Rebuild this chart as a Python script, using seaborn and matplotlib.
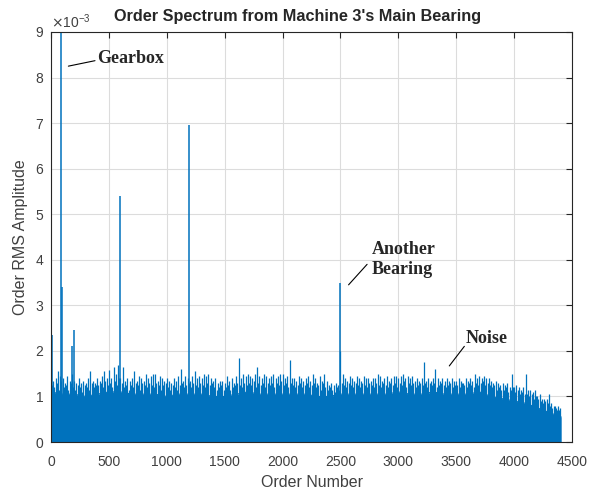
import numpy as np
import pandas as pd
import matplotlib
matplotlib.use("Agg")
import matplotlib.pyplot as plt
import seaborn as sns
from matplotlib.ticker import ScalarFormatter

# -----------------------------
# Data (amplitudes in units of 1e-3)
# -----------------------------
# noise spike tops, one value every 20 orders from 0 to 4400
noise_peak = [
    1.60, 1.35, 1.40, 1.55, 1.45,  1.40, 1.30, 1.45, 1.35, 1.50,
    1.35, 1.30, 1.40, 1.30, 1.35,  1.30, 1.40, 1.55, 1.35, 1.30,
    1.40, 1.35, 1.45, 1.55, 1.40,  1.58, 1.40, 1.65, 1.50, 1.68,
    1.40, 1.65, 1.35, 1.40, 1.35,  1.40, 1.55, 1.35, 1.45, 1.40,
    1.35, 1.50, 1.40, 1.45, 1.50,  1.50, 1.35, 1.45, 1.40, 1.35,
    1.40, 1.35, 1.30, 1.40, 1.35,  1.45, 1.60, 1.35, 1.45, 1.40,
    1.35, 1.45, 1.55, 1.40, 1.45,  1.40, 1.50, 1.45, 1.50, 1.40,
    1.35, 1.40, 1.30, 1.35, 1.35,  1.30, 1.45, 1.35, 1.40, 1.30,
    1.45, 1.85, 1.40, 1.50, 1.45,  1.50, 1.45, 1.40, 1.50, 1.65,
    1.45, 1.40, 1.50, 1.45, 1.40,  1.45, 1.50, 1.40, 1.45, 1.50,
    1.50, 1.40, 1.45, 1.80, 1.40,  1.40, 1.35, 1.45, 1.40, 1.35,
    1.40, 1.45, 1.35, 1.50, 1.40,  1.30, 1.45, 1.35, 1.50, 1.35,
    1.25, 1.30, 1.25, 1.30, 1.25,  2.00, 1.50, 1.40, 1.35, 1.45,
    1.40, 1.35, 1.45, 1.40, 1.35,  1.45, 1.40, 1.40, 1.35, 1.40,
    1.40, 1.50, 1.45, 1.35, 1.40,  1.45, 1.35, 1.40, 1.45, 1.45,
    1.40, 1.45, 1.50, 1.40, 1.45,  1.40, 1.45, 1.35, 1.40, 1.35,
    1.40, 1.75, 1.35, 1.40, 1.35,  1.40, 1.60, 1.40, 1.35, 1.40,
    1.35, 1.40, 1.35, 1.40, 1.35,  1.35, 1.40, 1.35, 1.30, 1.40,
    1.35, 1.40, 1.35, 1.50, 1.40,  1.45, 1.40, 1.45, 1.40, 1.40,
    1.35, 1.30, 1.35, 1.30, 1.25,  1.30, 1.25, 1.30, 1.20, 1.50,
    1.20, 1.25, 1.20, 1.15, 1.20,  1.50, 1.15, 1.15, 1.10, 1.15,
    1.00, 1.05, 0.95, 0.95, 0.95,  1.05, 0.85, 0.80, 0.75, 0.78,
    0.75,
]

# in-between spike tops, at orders 10, 30, 50, ... 4390
noise_mid = [
    1.25, 1.20, 1.30, 1.15, 1.35,  1.20, 1.25, 1.15, 1.30, 1.20,
    1.15, 1.25, 1.20, 1.10, 1.25,  1.20, 1.15, 1.30, 1.20, 1.25,
    1.25, 1.30, 1.20, 1.35, 1.25,  1.30, 1.20, 1.35, 1.25, 1.40,
    1.30, 1.20, 1.25, 1.15, 1.25,  1.20, 1.30, 1.25, 1.15, 1.30,
    1.25, 1.20, 1.30, 1.25, 1.20,  1.30, 1.25, 1.15, 1.25, 1.30,
    1.20, 1.15, 1.25, 1.20, 1.15,  1.25, 1.30, 1.20, 1.25, 1.30,
    1.20, 1.30, 1.25, 1.20, 1.30,  1.25, 1.20, 1.30, 1.25, 1.30,
    1.20, 1.15, 1.20, 1.25, 1.15,  1.20, 1.25, 1.15, 1.20, 1.25,
    1.30, 1.25, 1.20, 1.30, 1.25,  1.30, 1.25, 1.35, 1.20, 1.30,
    1.25, 1.30, 1.20, 1.30, 1.25,  1.30, 1.20, 1.30, 1.25, 1.35,
    1.25, 1.30, 1.20, 1.30, 1.25,  1.20, 1.25, 1.30, 1.20, 1.25,
    1.30, 1.20, 1.25, 1.30, 1.20,  1.25, 1.15, 1.30, 1.20, 1.15,
    1.20, 1.15, 1.10, 1.20, 1.15,  1.30, 1.25, 1.20, 1.30, 1.25,
    1.20, 1.30, 1.25, 1.20, 1.30,  1.25, 1.20, 1.30, 1.25, 1.20,
    1.30, 1.25, 1.20, 1.30, 1.25,  1.20, 1.30, 1.25, 1.30, 1.20,
    1.30, 1.25, 1.35, 1.20, 1.30,  1.25, 1.30, 1.20, 1.25, 1.30,
    1.25, 1.30, 1.20, 1.30, 1.25,  1.30, 1.20, 1.25, 1.30, 1.25,
    1.20, 1.25, 1.30, 1.20, 1.25,  1.25, 1.20, 1.30, 1.25, 1.20,
    1.30, 1.25, 1.20, 1.30, 1.25,  1.30, 1.35, 1.25, 1.30, 1.25,
    1.20, 1.25, 1.15, 1.20, 1.15,  1.15, 1.20, 1.10, 1.15, 1.20,
    1.10, 1.15, 1.05, 1.10, 1.05,  1.05, 1.00, 1.05, 0.95, 1.00,
    0.95, 0.90, 0.85, 0.90, 0.85,  0.80, 0.75, 0.80, 0.70, 0.70,
]

# solid body of the spectrum, one value every 100 orders
noise_floor = [
    1.10, 1.05, 1.05, 1.00, 1.05, 1.10, 1.10, 1.05, 1.05, 1.05,
    1.00, 1.05, 1.05, 1.05, 1.00, 1.00, 1.05, 1.10, 1.05, 1.05,
    1.05, 1.05, 1.05, 1.00, 1.00, 1.05, 1.05, 1.05, 1.05, 1.05,
    1.10, 1.05, 1.05, 1.10, 1.05, 1.05, 1.05, 1.10, 1.00, 0.95,
    0.90, 0.85, 0.75, 0.65, 0.55,
]

# discrete order peaks
peak_orders = [10, 86, 92, 179, 199, 596, 1189, 2497]
peak_amps = [2.35, 9.30, 3.40, 2.10, 2.45, 5.40, 6.95, 3.50]

labels = ["Gearbox", "Another\nBearing", "Noise"]
label_xy = [(400, 8.42), (2770, 4.0), (3580, 2.28)]
arrow_from = [(150, 8.25), (2570, 3.45), (3440, 1.67)]
arrow_to = [(380, 8.37), (2730, 3.9), (3570, 2.1)]

BLUE = "#0072BD"

# -----------------------------
# Build tables
# -----------------------------
spikes = pd.DataFrame({
    "order": np.concatenate([np.arange(len(noise_peak)) * 20,
                             np.arange(len(noise_mid)) * 20 + 10]),
    "amp": np.concatenate([noise_peak, noise_mid]) * 1e-3,
}).sort_values("order")
floor_df = pd.DataFrame({
    "order": np.arange(len(noise_floor)) * 100,
    "amp": np.array(noise_floor) * 1e-3,
})
floor_df.loc[floor_df.index[-1], "order"] = 4406

# -----------------------------
# Plot
# -----------------------------
sns.set_theme(style="whitegrid")
plt.rcParams["font.family"] = ["Liberation Sans", "DejaVu Sans"]

fig = plt.figure(figsize=(5.91, 4.92), dpi=100)
ax = fig.add_axes([0.0863, 0.1016, 0.8816, 0.8334])

ax.fill_between(floor_df["order"], 0, floor_df["amp"], color=BLUE, lw=0)
sns.lineplot(data=floor_df, x="order", y="amp", color=BLUE, lw=0.8, ax=ax)
ax.vlines(spikes["order"], 0, spikes["amp"], color=BLUE, lw=0.9)
ax.vlines(np.array(peak_orders), 0, np.array(peak_amps) * 1e-3, color=BLUE, lw=1.1)

for text, xy, p0, p1 in zip(labels, label_xy, arrow_from, arrow_to):
    ax.text(xy[0], xy[1] * 1e-3, text, family="Liberation Serif",
            fontweight="bold", fontsize=13, va="center", ha="left",
            linespacing=1.2)
    ax.plot([p0[0], p1[0]], [p0[1] * 1e-3, p1[1] * 1e-3], color="black", lw=0.8)

ax.set_xlim(0, 4500)
ax.set_ylim(0, 9e-3)
ax.set_xticks(np.arange(0, 4501, 500))
ax.set_yticks(np.arange(0, 9.01, 1) * 1e-3)

fmt = ScalarFormatter(useMathText=True)
fmt.set_powerlimits((-2, 2))
ax.yaxis.set_major_formatter(fmt)
ax.yaxis.get_offset_text().set_fontsize(10)
ax.yaxis.get_offset_text().set_color("#262626")

ax.set_facecolor("white")
ax.grid(True, color="#DCDCDC", lw=0.8)
ax.set_axisbelow(True)
for s in ax.spines.values():
    s.set_visible(True)
    s.set_color("#262626")
    s.set_linewidth(0.8)
ax.tick_params(direction="in", length=4, width=0.8, colors="#262626",
               labelsize=10, top=True, right=True)
ax.tick_params(axis="x", pad=9)
ax.tick_params(axis="y", pad=5)
ax.tick_params(axis="both", labelcolor="#404040")

ax.set_xlabel("Order Number", fontsize=11.5, color="#404040", labelpad=5)
ax.set_ylabel("Order RMS Amplitude", fontsize=11.5, color="#404040", labelpad=5)
ax.set_title("Order Spectrum from Machine 3's Main Bearing",
             fontsize=11.7, fontweight="bold", pad=8, x=0.474)

fig.savefig("out.png", dpi=100)
